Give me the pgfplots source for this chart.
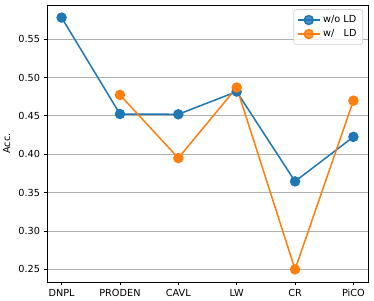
\documentclass[border=0pt]{standalone}
\usepackage{pgfplots}
\pgfplotsset{compat=1.18}
\usepackage{fontspec}
\setmainfont{DejaVu Sans}
\definecolor{tabblue}{HTML}{1F77B4}
\definecolor{taborange}{HTML}{FF7F0E}
\definecolor{gridgray}{HTML}{B0B0B0}
\begin{document}
\fontsize{7}{8.5}\selectfont
\begin{tikzpicture}
\begin{axis}[
  scale only axis,
  width=231.1pt, height=199.4pt,
  xmin=-0.25, xmax=5.25,
  ymin=0.2336, ymax=0.5944,
  xtick={0,1,2,3,4,5},
  xticklabels={DNPL,PRODEN,CAVL,LW,CR,PiCO},
  ytick={0.25,0.30,0.35,0.40,0.45,0.50,0.55},
  yticklabel style={/pgf/number format/.cd,fixed,fixed zerofill,precision=2},
  /pgf/number format/assume math mode=true,
  tick label style={font=\fontsize{7}{8.5}\selectfont, black},
  tick align=outside,
  tick pos=left,
  major tick length=2.5pt,
  every tick/.style={black, line width=0.6pt},
  axis line style={black, line width=0.6pt},
  ymajorgrids,
  grid style={gridgray, line width=0.6pt},
  ylabel={Acc.},
  ylabel style={font=\fontsize{7}{8.5}\selectfont, at={(axis description cs:0,0.5)}, anchor=south, yshift=24pt},
  legend style={at={(axis description cs:0.985,0.985)}, anchor=north east,
    draw=gridgray!60, rounded corners=2pt, line width=0.5pt,
    font=\fontsize{7}{8.5}\selectfont, fill=white, fill opacity=0.8, text opacity=1,
    row sep=0pt, inner sep=2.5pt},
  legend cell align=left,
  legend image code/.code={
    \draw[#1] (0cm,0cm) -- (0.55cm,0cm);
    \draw[#1, mark repeat=1] plot coordinates {(0.275cm,0cm)};
  },
]
\addplot[tabblue, line width=1.1pt, mark=*, mark size=3.2pt, mark options={solid, fill=tabblue, draw=tabblue}]
  coordinates {(0,0.578) (1,0.4524) (2,0.4520) (3,0.4816) (4,0.3646) (5,0.4226)};
\addlegendentry{w/o LD}
\addplot[taborange, line width=1.1pt, mark=*, mark size=3.2pt, mark options={solid, fill=taborange, draw=taborange}]
  coordinates {(1,0.4773) (2,0.3950) (3,0.4869) (4,0.2500) (5,0.4698)};
\addlegendentry{w/\ \ \ LD}
\end{axis}
\pgfresetboundingbox
\path (-33.84pt,-13.68pt) rectangle (235.42pt,203.0pt);
\end{tikzpicture}
\end{document}
